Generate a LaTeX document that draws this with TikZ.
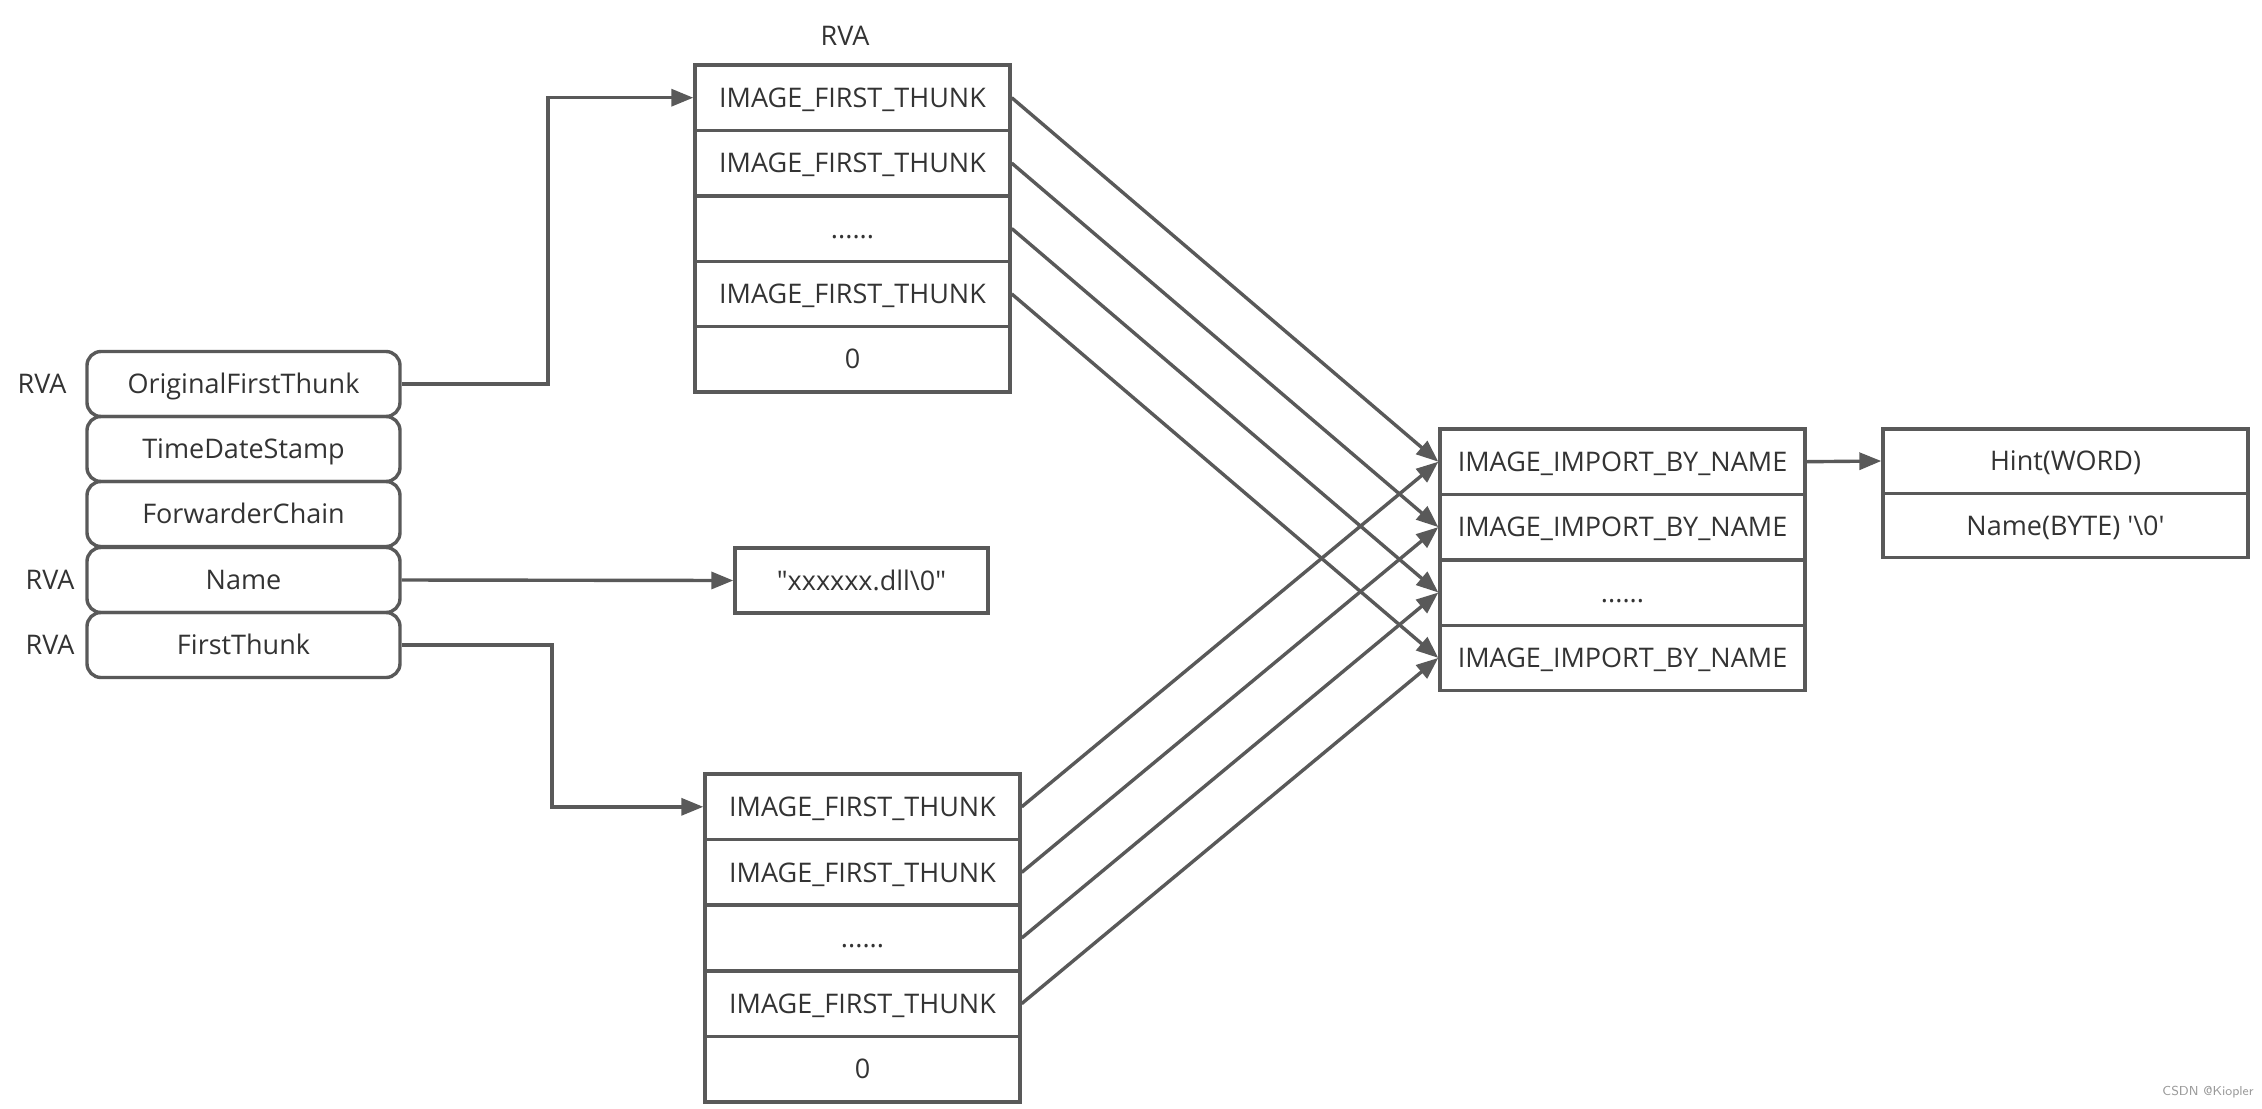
\documentclass[tikz,border=0pt]{standalone}
\usepackage{fontspec}
\setmainfont{Open Sans}[Ligatures=TeXOff]
\usetikzlibrary{arrows.meta}
\definecolor{lc}{HTML}{595959}
\definecolor{tc}{HTML}{333333}
\tikzset{
  cell/.style={draw=lc, line width=1.7pt, inner sep=0pt, minimum height=32.7pt, text=tc, text height=9.6pt, text depth=0pt, font=\fontsize{13.5}{15}\selectfont},
  rcell/.style={cell, rounded corners=7pt, minimum width=156.5pt, minimum height=32.5pt},
  lbl/.style={text=tc, font=\fontsize{13.5}{15}\selectfont, inner sep=0pt, text height=9.6pt, text depth=0pt},
  arr/.style={draw=lc, line width=1.7pt, -{Triangle[length=11pt,width=8.5pt]}},
}
\begin{document}
\begin{tikzpicture}[x=0.5pt,y=-0.5pt]
\useasboundingbox (0,0) rectangle (2262,1108);
% left structure
\node[rcell] (ofs) at (243.5,384) {OriginalFirstThunk};
\node[rcell] (tds) at (243.5,449) {TimeDateStamp};
\node[rcell] (fwc) at (243.5,514) {ForwarderChain};
\node[rcell] (nam) at (243.5,580) {Name};
\node[rcell] (fth) at (243.5,645) {FirstThunk};
\node[lbl] (r1) at (42,384) {RVA};
\node[lbl] (r2) at (50,580) {RVA};
\node[lbl] (r3) at (50,645) {RVA};
% top thunk table
\node[lbl] (rt) at (845,36) {RVA};
\node[cell, minimum width=157.5pt] (t1) at (852.5,97.7) {IMAGE\_FIRST\_THUNK};
\node[cell, minimum width=157.5pt] (t2) at (852.5,163.1) {IMAGE\_FIRST\_THUNK};
\node[cell, minimum width=157.5pt] (t3) at (852.5,228.5) {......};
\node[cell, minimum width=157.5pt] (t4) at (852.5,293.9) {IMAGE\_FIRST\_THUNK};
\node[cell, minimum width=157.5pt] (t5) at (852.5,359.3) {0};
% bottom thunk table
\node[cell, minimum width=157.5pt] (b1) at (862.5,806.8) {IMAGE\_FIRST\_THUNK};
\node[cell, minimum width=157.5pt] (b2) at (862.5,872.4) {IMAGE\_FIRST\_THUNK};
\node[cell, minimum width=157.5pt] (b3) at (862.5,938) {......};
\node[cell, minimum width=157.5pt] (b4) at (862.5,1003.6) {IMAGE\_FIRST\_THUNK};
\node[cell, minimum width=157.5pt] (b5) at (862.5,1069.2) {0};
% dll name
\node[cell, minimum width=126.5pt, minimum height=32.5pt] (dll) at (861.5,580.5) {"xxxxxx.dll\textbackslash 0"};
% import by name table
\node[cell, minimum width=182.5pt] (i1) at (1622.5,461.7) {IMAGE\_IMPORT\_BY\_NAME};
\node[cell, minimum width=182.5pt] (i2) at (1622.5,527.1) {IMAGE\_IMPORT\_BY\_NAME};
\node[cell, minimum width=182.5pt] (i3) at (1622.5,592.5) {......};
\node[cell, minimum width=182.5pt] (i4) at (1622.5,657.9) {IMAGE\_IMPORT\_BY\_NAME};
% hint table
\node[cell, minimum width=182.5pt, minimum height=32.2pt] (h1) at (2065.5,461) {Hint(WORD)};
\node[cell, minimum width=182.5pt, minimum height=32.2pt] (h2) at (2065.5,525.4) {Name(BYTE) '\textbackslash 0'};
% watermark
\node[text=black!40, font=\sffamily\fontsize{6.5}{7}\selectfont, inner sep=0pt] (wm) at (2208,1092) {CSDN @Kiopler};
% connectors
\coordinate (c1) at (548,240);
\coordinate (c2) at (552,720);
\draw[arr] (ofs.east) -| (c1) |- (t1.west);
\draw[arr] (nam.east) -- (dll.west);
\draw[arr] (fth.east) -| (c2) |- (b1.west);
\foreach \s/\d in {t1/i1,t2/i2,t3/i3,t4/i4}
  \draw[arr] (\s.east) -- (\d.west);
\foreach \s/\d in {b1/i1,b2/i2,b3/i3,b4/i4}
  \draw[arr] (\s.east) -- (\d.west);
\draw[arr] (i1.east) -- (h1.west);
\end{tikzpicture}
\end{document}
